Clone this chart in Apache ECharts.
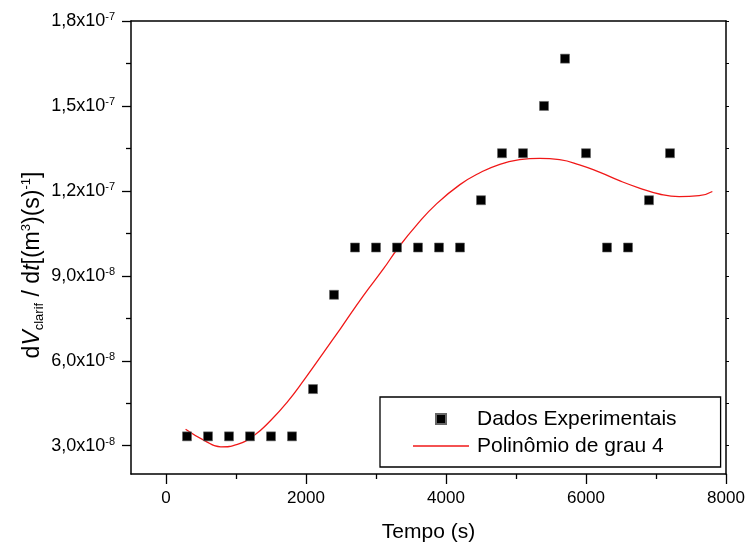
<!DOCTYPE html>
<html>
<head>
<meta charset="utf-8">
<script src="https://cdn.jsdelivr.net/npm/echarts@6/dist/echarts.min.js"></script>
<style>
html,body{margin:0;padding:0;background:#fff;}
#chart{width:748px;height:544px;}
</style>
</head>
<body>
<div id="chart"></div>
<script>
// Values in units of 1e-8 m^3/s
const expX = [300, 600, 900, 1200, 1500, 1800, 2100, 2400, 2700, 3000, 3300, 3600, 3900, 4200, 4500, 4800, 5100, 5400, 5700, 6000, 6300, 6600, 6900, 7200];
const expY = [3.33, 3.33, 3.33, 3.33, 3.33, 3.33, 5.0, 8.33, 10.0, 10.0, 10.0, 10.0, 10.0, 10.0, 11.67, 13.33, 13.33, 15.0, 16.67, 13.33, 10.0, 10.0, 11.67, 13.33];
const fitX = [280, 545, 783, 1020, 1257, 1495, 1732, 1983, 2240, 2491, 2823, 3108, 3321, 3583, 3868, 4199, 4484, 4769, 5053, 5338, 5623, 5907, 6192, 6477, 6762, 7046, 7331, 7616, 7805];
const fitY = [3.58, 3.19, 2.96, 3.05, 3.36, 3.89, 4.54, 5.36, 6.25, 7.13, 8.31, 9.25, 10.00, 10.80, 11.55, 12.22, 12.64, 12.94, 13.10, 13.15, 13.10, 12.92, 12.66, 12.36, 12.10, 11.89, 11.80, 11.83, 11.98];
const yMajor = [3, 6, 9, 12, 15, 18];
const yMinor = [4.5, 7.5, 10.5, 13.5, 16.5];
const xMajor = [0, 2000, 4000, 6000, 8000];
const xMinor = [1000, 3000, 5000, 7000];
const seriesNames = ['Dados Experimentais', 'Polinômio de grau 4'];
const xTitle = 'Tempo (s)';
const UNIT = 1e-8;

const FONT = '"Liberation Sans", Arial, sans-serif';
const RED = '#f01818';
const chart = echarts.init(document.getElementById('chart'), null, {renderer: 'canvas'});

function yFmt(v) {
  const real = v * UNIT;
  const e = Math.floor(Math.log10(real) + 1e-9);
  const m = (real / Math.pow(10, e)).toFixed(1).replace('.', ',');
  return '{m|' + m + 'x10}{s|' + e + '}';
}

const lineBlack = {show: true, onZero: false, lineStyle: {color: '#000', width: 1.5}};
const noLine = {show: false, onZero: false};

const option = {
  animation: false,
  backgroundColor: '#fff',
  grid: {left: 131, right: 22, top: 21, bottom: 70, containLabel: false, outerBoundsMode: 'none'},
  xAxis: [
    {
      type: 'value', position: 'bottom', min: -500, max: 8000,
      axisLine: lineBlack,
      axisTick: {show: true, inside: false, length: 10, customValues: xMajor, lineStyle: {color: '#000', width: 1.3}},
      axisLabel: {show: true, customValues: xMajor, margin: 16, fontSize: 17, color: '#000', fontFamily: FONT, formatter: v => String(v)},
      splitLine: {show: false},
      name: xTitle, nameLocation: 'middle', nameGap: 48,
      nameTextStyle: {fontSize: 21, color: '#000', fontFamily: FONT}
    },
    {
      type: 'value', position: 'bottom', min: -500, max: 8000,
      axisLine: noLine,
      axisTick: {show: true, inside: false, length: 5, customValues: xMinor, lineStyle: {color: '#000', width: 1.3}},
      axisLabel: {show: false},
      splitLine: {show: false}
    },
    {
      type: 'value', position: 'top', min: -500, max: 8000,
      axisLine: lineBlack,
      axisTick: {show: false},
      axisLabel: {show: false},
      splitLine: {show: false}
    }
  ],
  yAxis: [
    {
      type: 'value', position: 'left', min: 2, max: 18,
      axisLine: lineBlack,
      axisTick: {show: true, inside: false, length: 9, customValues: yMajor, lineStyle: {color: '#000', width: 1.3}},
      axisLabel: {
        show: true, customValues: yMajor, margin: 16, formatter: yFmt,
        rich: {
          m: {fontSize: 18, lineHeight: 19, color: '#000', fontFamily: FONT},
          s: {fontSize: 11, lineHeight: 11, color: '#000', fontFamily: FONT, verticalAlign: 'top'}
        }
      },
      splitLine: {show: false}
    },
    {
      type: 'value', position: 'left', min: 2, max: 18,
      axisLine: noLine,
      axisTick: {show: true, inside: false, length: 5, customValues: yMinor, lineStyle: {color: '#000', width: 1.3}},
      axisLabel: {show: false},
      splitLine: {show: false}
    },
    {
      type: 'value', position: 'right', min: 2, max: 18,
      axisLine: lineBlack,
      axisTick: {show: true, inside: false, length: 3, customValues: yMajor.concat(yMinor), lineStyle: {color: '#000', width: 1}},
      axisLabel: {show: false},
      splitLine: {show: false}
    }
  ],
  legend: {
    left: 380, top: 397, orient: 'vertical',
    padding: [11, 44, 10, 33],
    itemWidth: 56, itemHeight: 10, itemGap: 5,
    borderColor: '#000', borderWidth: 1.3, backgroundColor: '#fff',
    textStyle: {fontSize: 21, lineHeight: 22, color: '#000', fontFamily: FONT, padding: [0, 0, 0, 3]},
    data: [
      {name: seriesNames[0], icon: 'path://M0,0L1,0L1,1L0,1Z'},
      {name: seriesNames[1], icon: 'path://M0,0L56,0L56,1.3L0,1.3Z', itemStyle: {color: RED, borderWidth: 0}}
    ]
  },
  graphic: [
    {
      type: 'text', x: 33, y: 265, rotation: Math.PI / 2,
      style: {
        text: '{n|d}{i|V}{sb|clarif}{n| / d}{i|t}{n|[(m}{sp|3}{n|)(s)}{sp|-1}{n|]}',
        align: 'center', verticalAlign: 'middle',
        rich: {
          n: {fontSize: 23, lineHeight: 26, fill: '#000', fontFamily: FONT},
          i: {fontSize: 23, lineHeight: 26, fill: '#000', fontFamily: FONT, fontStyle: 'italic'},
          sb: {fontSize: 13, lineHeight: 13, fill: '#000', fontFamily: FONT, verticalAlign: 'bottom'},
          sp: {fontSize: 13, lineHeight: 13, fill: '#000', fontFamily: FONT, verticalAlign: 'top'}
        }
      }
    }
  ],
  series: [
    {
      name: seriesNames[0], type: 'scatter', xAxisIndex: 0, yAxisIndex: 0,
      symbol: 'rect', symbolSize: 9,
      itemStyle: {color: '#000', borderColor: '#666', borderWidth: 0.6, opacity: 1},
      data: expX.map((x, i) => [x, expY[i]]),
      z: 3
    },
    {
      name: seriesNames[1], type: 'line', xAxisIndex: 0, yAxisIndex: 0,
      symbol: 'none', showSymbol: false, smooth: 0.5,
      lineStyle: {color: RED, width: 1.3},
      itemStyle: {color: RED},
      data: fitX.map((x, i) => [x, fitY[i]]),
      z: 2
    }
  ]
};
chart.setOption(option);
</script>
</body>
</html>
